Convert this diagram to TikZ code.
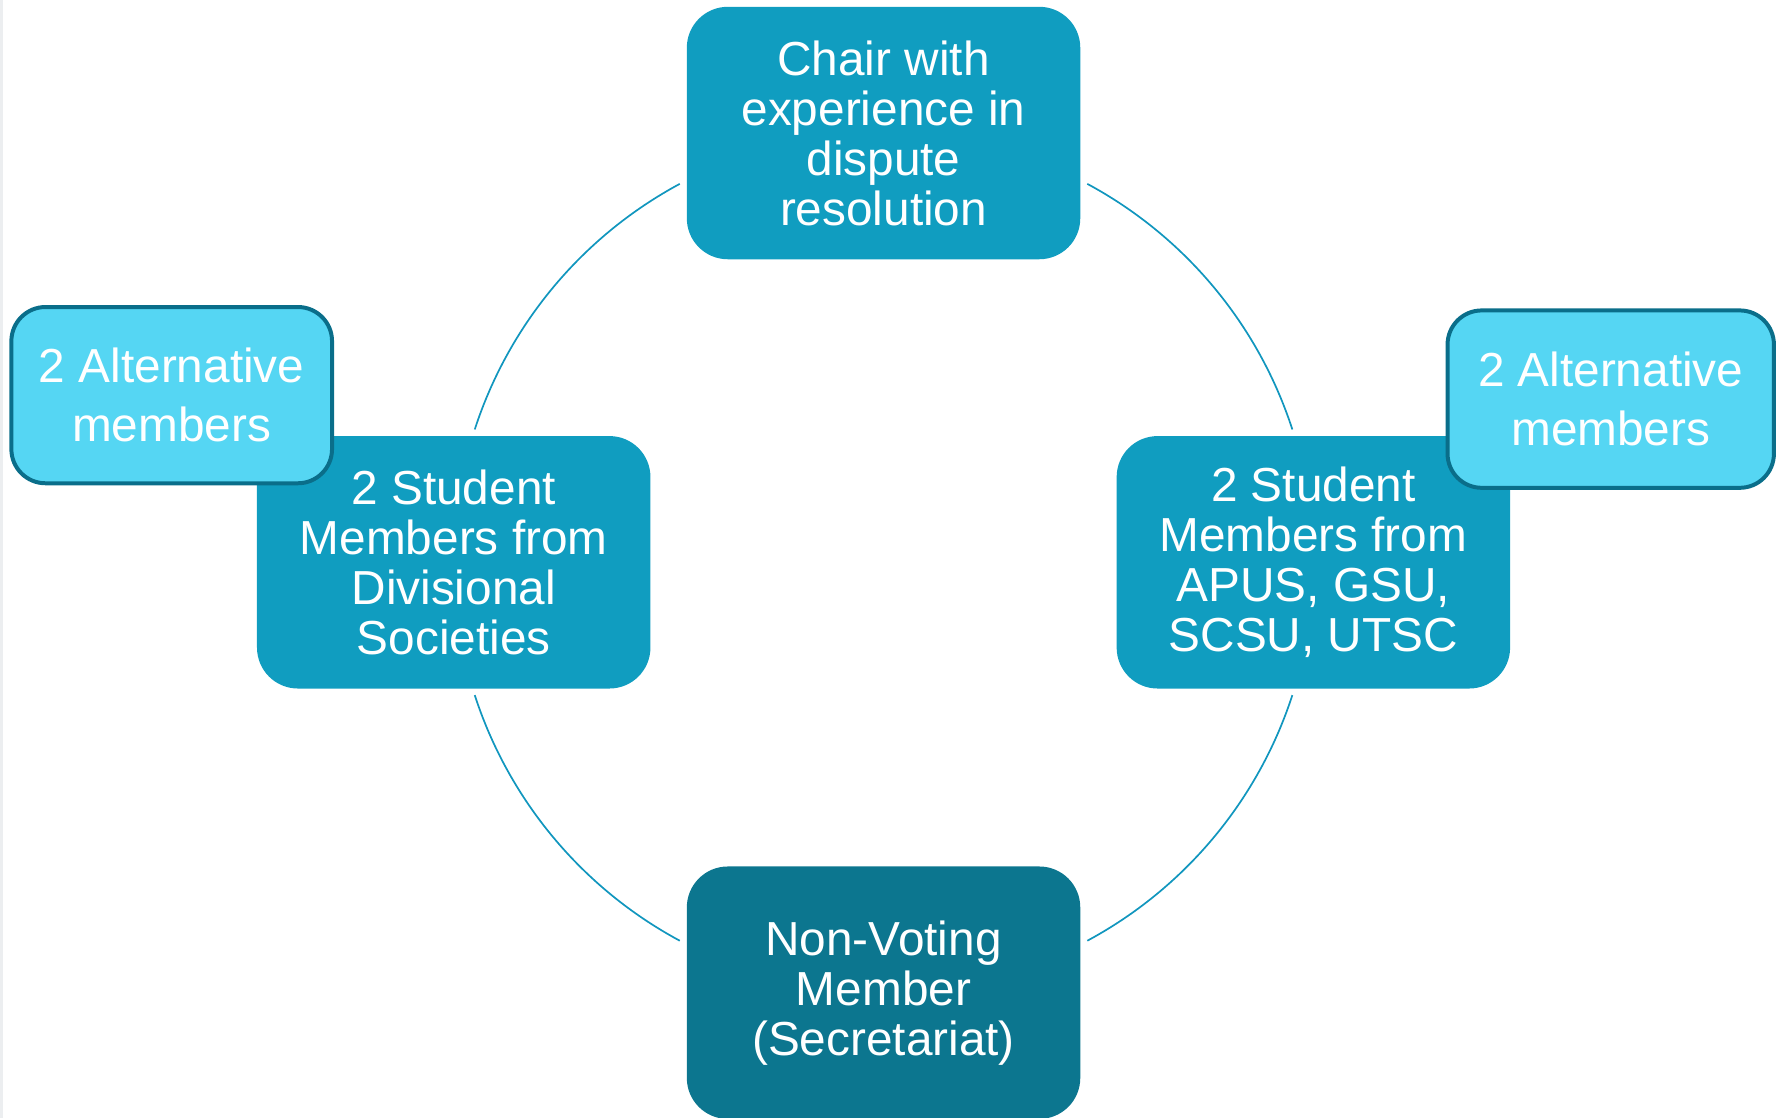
\documentclass[tikz,border=0pt]{standalone}
\usepackage{fontspec}
\setmainfont{Liberation Sans}
\usetikzlibrary{calc}
\definecolor{mainfill}{HTML}{109DC0}
\definecolor{darkfill}{HTML}{0C768F}
\definecolor{altfill}{HTML}{55D6F3}
\definecolor{altdraw}{HTML}{0A6E8A}
\definecolor{ringcol}{HTML}{1196BE}
\definecolor{edgegray}{HTML}{ECEEF0}
\begin{document}
\begin{tikzpicture}[x=1pt,y=1pt,
  mainbox/.style={rounded corners=36pt, fill=mainfill, text=white, minimum width=346pt, minimum height=222pt,
    inner sep=0pt, align=center, font=\fontsize{42}{44}\selectfont},
  darkbox/.style={mainbox, fill=darkfill},
  altbox/.style={rounded corners=30pt, fill=altfill, draw=altdraw, line width=3.5pt, text=white,
    inner sep=0pt, align=center, font=\fontsize{42}{52}\selectfont},
  ring/.style={draw=ringcol, line width=1.5pt}]
\useasboundingbox (0,0) rectangle (1568,983);
\fill[edgegray] (0,0) rectangle (3,983);
\coordinate (c) at (777,488.5);
% ring arcs
\coordinate (a1) at ($(c)+(118.3:378)$);
\coordinate (a2) at ($(c)+(61.7:378)$);
\coordinate (a3) at ($(c)+(-18:378)$);
\coordinate (a4) at ($(c)+(-118.3:378)$);
\draw[ring] (a1) arc[start angle=118.3, end angle=162, radius=378];
\draw[ring] (a2) arc[start angle=61.7, end angle=18, radius=378];
\draw[ring] (a3) arc[start angle=-18, end angle=-61.7, radius=378];
\draw[ring] (a4) arc[start angle=-118.3, end angle=-162, radius=378];
% main boxes
\node[mainbox] (chair) at (777,866) {Chair with\\experience in\\dispute\\resolution};
\node[mainbox] (left) at (399,488.5) {2 Student\\Members from\\Divisional\\Societies};
\node[mainbox] (right) at (1155,488.5) {2 Student\\Members from\\APUS, GSU,\\SCSU, UTSC};
\node[darkbox] (nonvote) at (777,110) {Non-Voting\\Member\\(Secretariat)};
% alternative boxes
\node[altbox, minimum width=282pt, minimum height=155pt] (altL) at (151,635.5) {2 Alternative\\members};
\node[altbox, minimum width=287pt, minimum height=156pt] (altR) at (1416.5,632) {2 Alternative\\members};
\end{tikzpicture}
\end{document}
